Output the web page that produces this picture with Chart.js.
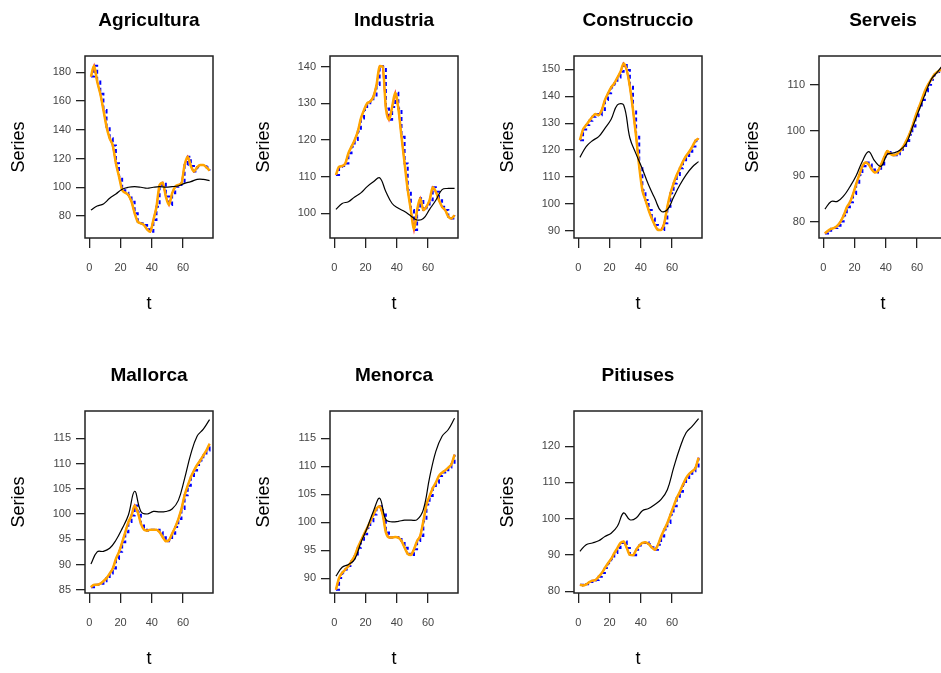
<!DOCTYPE html>
<html>
<head>
<meta charset="utf-8">
<script src="https://cdn.jsdelivr.net/npm/chart.js@4.4.1/dist/chart.umd.min.js"></script>
<style>
  html, body { margin: 0; padding: 0; background: #fff; overflow: hidden; width: 941px; height: 673px; }
  canvas { position: absolute; }
</style>
</head>
<body>
<script>
// time index of the quarterly series (every second quarter)
const t = [1, 3, 5, 7, 9, 11, 13, 15, 17, 19, 21, 23, 25, 27, 29, 31, 33, 35, 37, 39,
           41, 43, 45, 47, 49, 51, 53, 55, 57, 59, 61, 63, 65, 67, 69, 71, 73, 75, 77]
// time index of the trend line
const tTrend = [1, 5, 9, 13, 17, 21, 25, 29, 33, 37, 41, 45, 49, 53, 57, 61, 65, 69, 73, 77]
const xTicks = [0, 20, 40, 60]

// Agricultura
const agriculturaObs = [177.0, 184.5, 173.5, 165.0, 153.8, 142.0, 134.0, 129.0, 116.7, 107.4,
  98.0, 96.2, 94.6, 90.0, 81.9, 76.0, 74.9, 73.7, 70.7, 69.0,
  77.2, 86.5, 101.6, 103.2, 93.5, 87.7, 95.8, 100.4, 101.6, 102.7,
  115.5, 121.3, 114.8, 110.9, 113.9, 115.5, 115.5, 113.9, 111.6]
const agriculturaTrend = [84.2, 87.0, 88.4, 92.3, 95.3, 98.6, 100.0, 100.4, 100.0, 99.3,
  100.0, 100.4, 100.0, 100.4, 100.9, 102.7, 103.9, 105.5, 105.5, 104.6]
const agriculturaTicks = [80, 100, 120, 140, 160, 180]

// Industria
const industriaObs = [110.5, 112.7, 112.9, 113.6, 116.4, 118.2, 120.0, 122.3, 125.9, 128.2,
  130.0, 130.5, 131.8, 135.0, 140.2, 140.0, 128.6, 125.5, 129.0, 132.9,
  128.6, 120.9, 113.6, 106.4, 100.9, 95.5, 100.9, 104.1, 100.9, 101.8,
  103.6, 107.1, 105.9, 103.6, 101.8, 100.9, 99.1, 98.6, 99.5]
const industriaTrend = [101.1, 102.7, 103.2, 104.5, 105.6, 107.3, 108.6, 109.7, 105.9, 102.7,
  101.4, 100.5, 99.3, 98.2, 98.6, 101.1, 103.6, 106.5, 106.8, 106.8]
const industriaTicks = [100, 110, 120, 130, 140]

// Construccio
const construccioObs = [123.7, 127.7, 129.3, 130.9, 132.4, 133.4, 133.0, 134.9, 138.6, 141.1,
  143.3, 144.8, 147.0, 149.1, 152.2, 149.8, 143.6, 134.9, 125.0, 113.8,
  105.1, 101.4, 97.7, 94.6, 92.1, 90.3, 90.3, 92.8, 98.9, 103.9,
  107.6, 110.7, 113.2, 115.7, 117.8, 119.4, 121.3, 123.5, 124.3]
const construccioTrend = [117.3, 121.3, 123.5, 125.0, 128.1, 131.5, 136.8, 136.8, 124.5, 118.5,
  113.0, 107.0, 102.0, 97.3, 97.8, 102.5, 107.0, 110.8, 113.7, 115.7]
const construccioTicks = [90, 100, 110, 120, 130, 140, 150]

// Serveis
const serveisObs = [77.5, 78.1, 78.5, 78.7, 79.2, 80.1, 81.4, 83.2, 84.3, 86.1,
  88.3, 90.3, 92.2, 93.0, 92.6, 91.5, 90.8, 91.2, 92.6, 94.2,
  95.5, 94.9, 94.6, 94.8, 95.5, 96.4, 97.7, 99.1, 100.9, 103.1,
  104.9, 106.7, 108.6, 110.0, 111.1, 112.2, 112.8, 113.3, 114.0]
const serveisTrend = [82.8, 84.5, 84.5, 85.7, 87.7, 90.1, 93.3, 95.4, 93.3, 92.2,
  94.8, 95.1, 95.7, 97.1, 100.6, 104.2, 107.8, 111.1, 112.8, 114.5]
const serveisTicks = [80, 90, 100, 110]

// Mallorca
const mallorcaObs = [85.5, 86.0, 86.0, 86.2, 86.7, 87.3, 88.2, 89.2, 91.1, 92.5,
  94.4, 96.4, 98.4, 99.7, 101.7, 100.4, 98.1, 96.9, 96.7, 96.9,
  96.9, 96.9, 96.4, 95.4, 94.6, 94.8, 96.1, 97.4, 99.0, 101.0,
  103.7, 105.6, 107.3, 108.6, 109.7, 110.6, 111.6, 112.6, 113.9]
const mallorcaTrend = [90.1, 92.5, 92.6, 93.2, 94.8, 97.1, 99.8, 104.5, 100.5, 100.0,
  100.5, 100.4, 100.5, 101.0, 102.7, 107.0, 111.9, 115.4, 116.8, 118.7]
const mallorcaTicks = [85, 90, 95, 100, 105, 110, 115]

// Menorca
const menorcaObs = [88.0, 90.1, 91.0, 91.6, 92.2, 93.1, 94.0, 95.5, 96.7, 97.9,
  99.0, 100.2, 101.4, 102.5, 102.9, 101.4, 98.2, 97.3, 97.3, 97.4,
  97.3, 96.7, 95.5, 94.4, 94.2, 95.2, 96.7, 97.6, 100.2, 103.2,
  104.7, 106.1, 107.1, 108.3, 108.9, 109.3, 109.8, 110.4, 112.1]
const menorcaTrend = [90.4, 92.0, 92.5, 93.4, 96.4, 99.0, 102.0, 104.3, 100.5, 100.1,
  100.2, 100.4, 100.4, 100.5, 102.3, 108.0, 112.7, 115.4, 116.6, 118.6]
const menorcaTicks = [90, 95, 100, 105, 110, 115]

// Pitiuses
const pitiusesObs = [81.8, 81.6, 81.9, 82.5, 82.9, 83.1, 84.0, 85.0, 86.4, 87.7,
  88.9, 90.5, 91.9, 93.3, 93.7, 91.9, 90.0, 89.9, 91.4, 92.6,
  93.3, 93.5, 93.0, 92.1, 91.4, 92.8, 95.1, 97.0, 98.8, 101.1,
  103.4, 105.7, 107.4, 109.4, 111.2, 112.4, 113.1, 114.0, 116.8]
const pitiusesTrend = [91.0, 92.8, 93.3, 93.9, 95.1, 96.0, 97.9, 101.6, 99.7, 100.2,
  102.2, 102.8, 103.9, 105.3, 108.0, 114.0, 119.5, 123.7, 125.5, 127.6]
const pitiusesTicks = [80, 90, 100, 110, 120]

// one panel per series, laid out 4 per row
const panels = [
  { title: "Agricultura", obs: agriculturaObs, trend: agriculturaTrend, ticks: agriculturaTicks, yMin: 64.7, yMax: 191.3 },
  { title: "Industria", obs: industriaObs, trend: industriaTrend, ticks: industriaTicks, yMin: 93.3, yMax: 142.9 },
  { title: "Construccio", obs: construccioObs, trend: construccioTrend, ticks: construccioTicks, yMin: 87.3, yMax: 155.0 },
  { title: "Serveis", obs: serveisObs, trend: serveisTrend, ticks: serveisTicks, yMin: 76.5, yMax: 116.3 },
  { title: "Mallorca", obs: mallorcaObs, trend: mallorcaTrend, ticks: mallorcaTicks, yMin: 84.35, yMax: 120.4 },
  { title: "Menorca", obs: menorcaObs, trend: menorcaTrend, ticks: menorcaTicks, yMin: 87.4, yMax: 119.9 },
  { title: "Pitiuses", obs: pitiusesObs, trend: pitiusesTrend, ticks: pitiusesTicks, yMin: 79.5, yMax: 129.7 },
]

const CELL_W = 245
const CELL_H = 355
const colLeft = [0, 245, 489, 734]

Chart.defaults.font.family = "'Liberation Sans', Arial, sans-serif"

// box around the plotting region
const framePlugin = {
  id: "frame",
  afterDraw(chart) {
    const { ctx, chartArea: a } = chart
    ctx.save()
    ctx.strokeStyle = "#222"
    ctx.lineWidth = 1.5
    ctx.strokeRect(a.left, a.top, a.right - a.left, a.bottom - a.top)
    ctx.restore()
  },
}

panels.forEach((p, i) => {
  const canvas = document.createElement("canvas")
  canvas.width = CELL_W
  canvas.height = CELL_H
  canvas.style.left = colLeft[i % 4] + "px"
  canvas.style.top = Math.floor(i / 4) * CELL_H + "px"
  document.body.appendChild(canvas)

  const obsPoints = t.map((x, k) => ({ x, y: p.obs[k] }))
  const trendPoints = tTrend.map((x, k) => ({ x, y: p.trend[k] }))

  new Chart(canvas, {
    type: "line",
    data: {
      datasets: [
        { label: "trend", data: trendPoints, borderColor: "#000", borderWidth: 1.2,
          pointRadius: 0, tension: 0.4 },
        { label: "fitted", data: obsPoints, borderColor: "#FFA500", borderWidth: 2.5,
          pointRadius: 0, cubicInterpolationMode: "monotone" },
        { label: "observed", data: obsPoints, borderColor: "#FF0000", borderWidth: 1.5,
          pointRadius: 0 },
        { label: "steps", data: obsPoints, borderColor: "#0000FF", borderWidth: 2,
          borderDash: [4, 3], pointRadius: 0, stepped: "before" },
      ],
    },
    options: {
      responsive: false,
      animation: false,
      devicePixelRatio: 1,
      layout: { padding: { left: 0, right: 32, top: 0, bottom: 0 } },
      plugins: {
        legend: { display: false },
        tooltip: { enabled: false },
        title: {
          display: true,
          fullSize: false,
          text: p.title,
          color: "#000",
          font: { size: 19, weight: "bold" },
          padding: { top: 9, bottom: 24.2 },
        },
      },
      scales: {
        x: {
          type: "linear",
          min: -2.8,
          max: 79.2,
          afterBuildTicks: (s) => { s.ticks = xTicks.map((v) => ({ value: v })) },
          afterFit: (s) => { s.height = 117 },
          grid: { drawOnChartArea: false, tickLength: 10, color: "#222", lineWidth: 1.3 },
          border: { display: false },
          ticks: { color: "#444", font: { size: 11 }, padding: 13, maxRotation: 0, autoSkip: false },
          title: { display: true, text: "t", color: "#000", font: { size: 18 }, padding: { top: 0, bottom: 40 } },
        },
        y: {
          min: p.yMin,
          max: p.yMax,
          afterBuildTicks: (s) => { s.ticks = p.ticks.map((v) => ({ value: v })) },
          afterFit: (s) => { s.width = 85 },
          grid: { drawOnChartArea: false, tickLength: 9, color: "#222", lineWidth: 1.3 },
          border: { display: false },
          ticks: { color: "#444", font: { size: 11 }, padding: 5, autoSkip: false },
          title: { display: true, text: "Series", color: "#000", font: { size: 18 }, padding: { top: 8.5, bottom: 0 } },
        },
      },
    },
    plugins: [framePlugin],
  })
})
</script>
</body>
</html>
